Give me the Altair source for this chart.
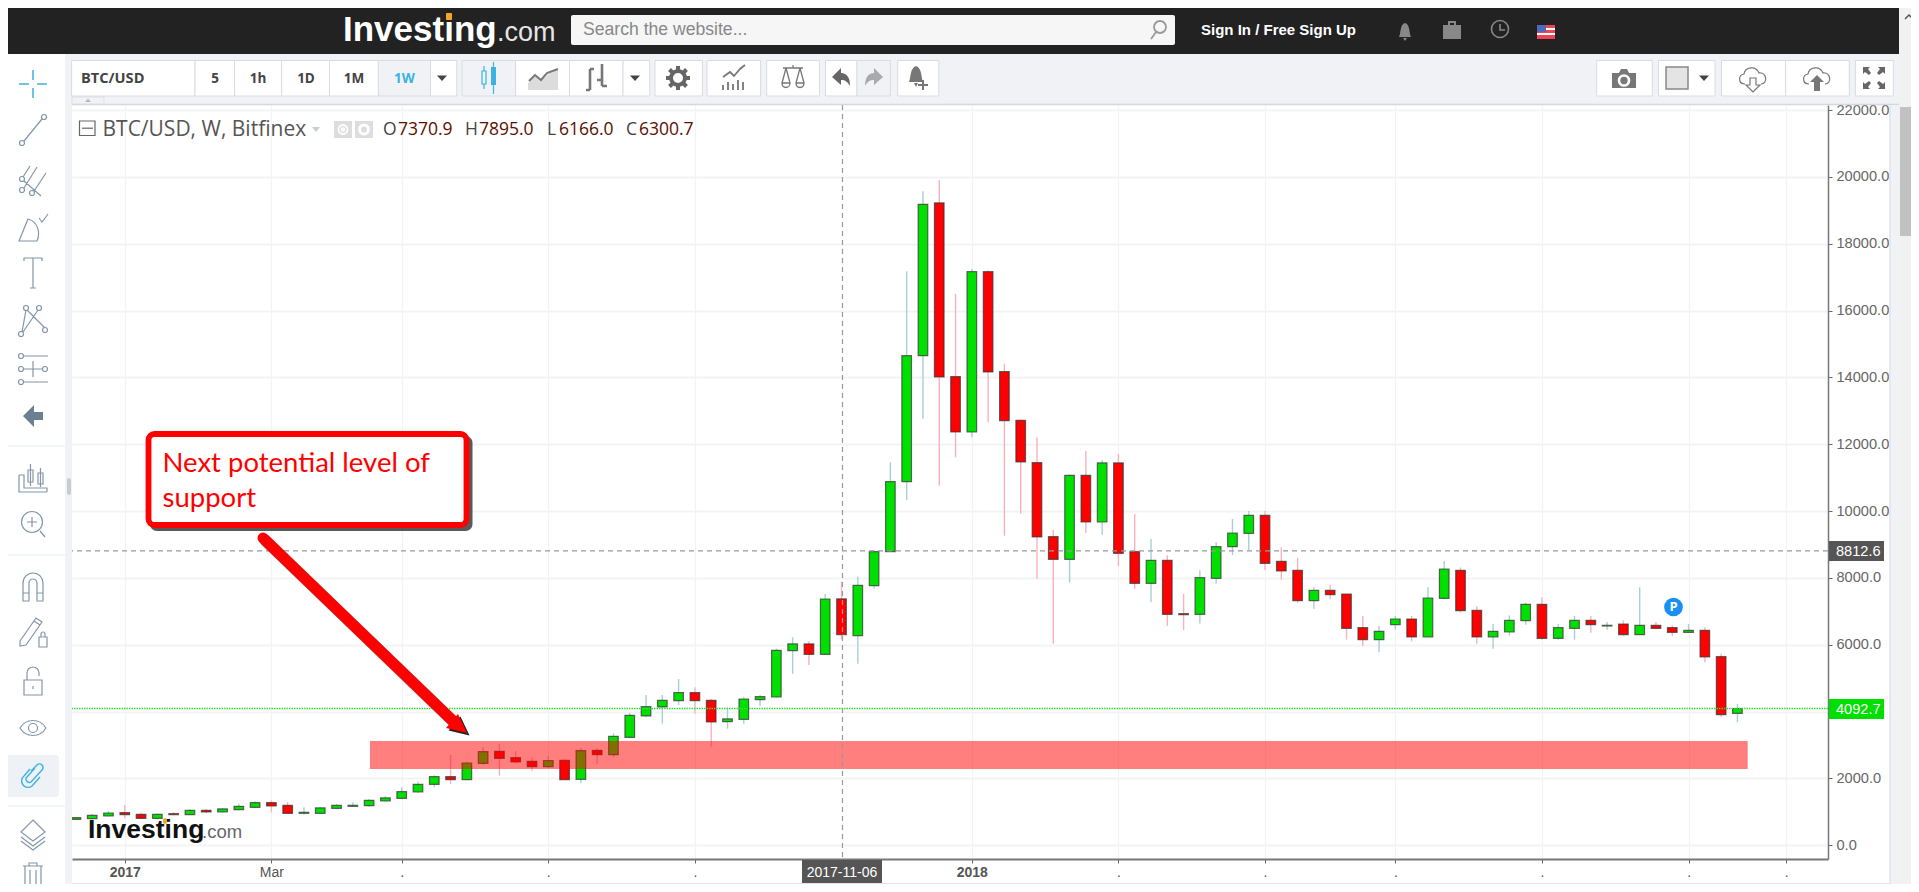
import altair as alt
import pandas as pd

# ---------- data (weekly BTC/USD candles) ----------
opens = [777,797,877,976,927,807,947,917,1047,997,1067,1136,1276,1196,957,957,1107,1166,1186,1326,
         1406,1595,1824,2053,1964,2452,2812,2622,2512,2353,2542,1975,2842,2712,3231,3870,4139,4328,4568,4338,
         3700,3770,4358,4438,5824,6024,5714,7370.9,6273,7769,8787,10881,14651,19220,14023,12367,17165,14173,12716,11450,
         9235,8557,11071,9674,11440,8787,7839,8527,6931,6911,7989,8936,9335,9874,8497,8227,7320,7629,7519,6512,
         6153,6601,6771,6233,7389,8227,7030,6233,6382,6721,7210,6193,6492,6731,6562,6621,6302,6582,6512,6372,
         6432,5644,3948]
closes = [827,897,967,917,807,927,917,1047,997,1087,1167,1276,1176,957,987,1117,1196,1196,1346,1416,
          1605,1824,2053,1964,2462,2802,2602,2492,2353,2532,1964,2832,2712,3261,3889,4149,4338,4568,4328,3690,
          3780,4378,4448,5834,6024,5714,7370,6300.7,7779,8787,10881,14651,19179,14013,12367,17165,14163,12706,11470,9225,
          8557,11071,9674,11440,8737,7839,8527,6911,6901,8009,8936,9345,9874,8437,8207,7320,7629,7499,6492,6153,
          6402,6771,6233,7399,8267,7020,6233,6402,6731,7210,6193,6512,6731,6601,6582,6302,6582,6492,6372,6432,
          5634,3908,4092.7]
highs = [837,937,1027,1206,977,957,987,1077,1087,1107,1246,1316,1346,1296,1136,1136,1236,1286,1386,1466,
         1735,1904,2093,2702,2502,2931,3031,2822,2632,2672,2572,2922,2902,3351,3969,4498,4498,4977,4727,4378,
         4119,4428,4498,5884,6223,6114,7520,7895.0,8038,8830,11460,17175,19568,19908,16496,17245,17205,14402,12740,12208,
         9435,11100,11798,11530,11709,9913,9166,8677,7520,8228,9066,9764,10003,10003,8915,8606,7719,7788,7520,6861,
         6562,6861,6861,7719,8507,8317,7150,6621,6881,7260,7419,6621,6861,6861,6681,6731,7719,6681,6582,6621,
         6522,5734,4228]
lows = [767,777,857,807,777,777,897,907,967,977,1047,1116,987,937,917,947,1077,1146,1156,1306,
        1376,1575,1735,1834,1954,2403,2083,2452,2233,2313,1954,1855,2433,2633,3201,3830,3640,4199,3939,2952,
        3490,3640,4169,4418,5136,5395,5695,6166.0,5435,7680,10333,10333,12766,10762,11609,12208,12656,9265,9924,7979,
        6030,7869,9355,9295,8357,7680,7270,6563,6443,6633,7829,8686,8836,8238,7948,7260,7080,7370,6153,5963,
        5774,6452,6103,6233,7360,6970,6033,5883,6272,6601,6153,6153,6153,6362,6452,6272,6302,6472,6262,6362,
        5474,3849,3679]
band_low = 2283
band_high = 3121
band_first = 18.05
band_last = 102.63
last_price = 4092.7
cross_price = 8812.6
cross_index = 47.06
cross_date = "2017-11-06"
price_ticks = [0, 2000, 4000, 6000, 8000, 10000, 12000, 14000, 16000, 18000, 20000, 22000]
date_ticks = [3, 12, 20, 29, 38, 55, 64, 73, 81, 90, 99, 105]
date_labels = ["2017", "Mar", ".", ".", ".", "2018", ".", ".", ".", ".", ".", "."]
note_lines = ["Next potential level of", "support"]

df = pd.DataFrame({"i": range(len(opens)), "o": opens, "c": closes, "h": highs, "l": lows})
df["dir"] = ["up" if c >= o else "down" for o, c in zip(opens, closes)]
one = pd.DataFrame({"a": [0]})

# ---------- geometry of the plot inside the page ----------
LEFT, TOP, W, H = 72, 105, 1756, 754

label_expr = "".join(f"datum.value=={v}?'{t}':" for v, t in zip(date_ticks, date_labels)) + "''"
GRID = "#f2f3f5"
FONT = "Liberation Sans"
x_scale = alt.Scale(domain=[-0.24, 107.56], nice=False, zero=False, padding=0)
x_axis = alt.Axis(values=date_ticks, labelExpr=label_expr, grid=True, gridColor=GRID, gridWidth=1.2,
                  domainColor="#777", domainWidth=2, tickColor="#666", tickSize=4,
                  labelColor="#555", labelFont=FONT, labelFontSize=14, labelPadding=2,
                  labelFontWeight={"condition": {"test": "datum.value==3||datum.value==55", "value": "bold"}, "value": "normal"},
                  labelOverlap=False, labelFlush=False)
y_scale = alt.Scale(domain=[-410, 22151], nice=False, zero=False, padding=0)
y_axis = alt.Axis(orient="right", values=price_ticks, format=".1f", grid=True, gridColor=GRID, gridWidth=2,
                  domainColor="#777", domainWidth=1.5, tickColor="#666", tickSize=4,
                  labelColor="#666", labelFont=FONT, labelFontSize=14.6, labelPadding=4, labelOverlap=False)
x_enc = alt.X("i:Q", title=None, scale=x_scale, axis=x_axis)
y_enc = alt.Y("l:Q", title=None, scale=y_scale, axis=y_axis)


def X(v):
    return alt.value(v - LEFT)


def Y(v):
    return alt.value(v - TOP)


def rect(x0, y0, x1, y1, fill, stroke=None, sw=1, radius=0, op=1):
    kw = dict(fill=fill, opacity=op, cornerRadius=radius)
    if stroke:
        kw.update(stroke=stroke, strokeWidth=sw)
    return alt.Chart(one).mark_rect(**kw).encode(x=X(x0), x2=X(x1), y=Y(y0), y2=Y(y1))


def line(x0, y0, x1, y1, color, sw=1, op=1, cap="butt"):
    return alt.Chart(one).mark_rule(color=color, strokeWidth=sw, opacity=op, strokeCap=cap).encode(
        x=X(x0), x2=X(x1), y=Y(y0), y2=Y(y1))


def txt(s, x, y, size=14, color="#444", weight="normal", font="Open Sans", align="left", baseline="middle"):
    return alt.Chart(one).mark_text(text=s, fontSize=size, color=color, fontWeight=weight, font=font,
                                    align=align, baseline=baseline).encode(x=X(x), y=Y(y))


def c(x, y, r):
    return f"M{x-r},{y}A{r},{r} 0 1 0 {x+r},{y}A{r},{r} 0 1 0 {x-r},{y}"


def icon(path, cx, cy, color="#8496a8", sw=1.2, fill=False):
    if fill:
        mk = alt.Chart(one).mark_point(shape=path, size=4, filled=True, fill=color, strokeWidth=0, opacity=1)
    else:
        mk = alt.Chart(one).mark_point(shape=path, size=4, filled=False, stroke=color, strokeWidth=sw, opacity=1)
    return mk.encode(x=X(cx), y=Y(cy))


TRI = "M-5,-2.5L5,-2.5L0,3Z"
layers = []

# ---------- chart ----------
wicks = alt.Chart(df).mark_rule(strokeWidth=1.4, clip=True).encode(
    x=x_enc, y=y_enc, y2="h:Q",
    color=alt.Color("dir:N", legend=None, scale=alt.Scale(domain=["up", "down"], range=["#a9cfd6", "#f7b2bd"])))
bodies = alt.Chart(df).mark_bar(size=9.6, stroke="#333", strokeWidth=1.2, strokeOpacity=0.72, clip=True).encode(
    x=x_enc, y=alt.Y("o:Q", title=None, scale=y_scale, axis=y_axis), y2="c:Q",
    fill=alt.Fill("dir:N", legend=None, scale=alt.Scale(domain=["up", "down"], range=["#00e000", "#ff0000"])))
layers += [wicks, bodies]

band = alt.Chart(pd.DataFrame({"i": [band_first], "i2": [band_last], "l": [band_low], "l2": [band_high]})).mark_rect(
    color="#ff0000", opacity=0.5).encode(x=x_enc, x2="i2:Q", y=y_enc, y2="l2:Q")
layers.append(band)
layers.append(alt.Chart(pd.DataFrame({"l": [cross_price]})).mark_rule(color="#999", strokeDash=[5, 4], strokeWidth=1.2).encode(y=y_enc))
layers.append(alt.Chart(pd.DataFrame({"i": [cross_index]})).mark_rule(color="#999", strokeDash=[5, 4], strokeWidth=1.2).encode(x=x_enc))
layers.append(alt.Chart(pd.DataFrame({"l": [last_price]})).mark_rule(color="#33dd33", strokeDash=[1.5, 1], strokeWidth=1.4).encode(y=y_enc))

# price and date flags
layers += [rect(1829, 541, 1884, 561, "#555"), txt(f"{cross_price:.1f}", 1836, 551.5, 14.6, "#fff", font=FONT),
           rect(1829, 699, 1884, 719, "#00e000"), txt(f"{last_price:.1f}", 1836, 709.5, 14.6, "#fff", font=FONT),
           rect(802, 860, 882, 883, "#555"), txt(cross_date, 842, 873, 14, "#fff", font=FONT, align="center")]

# callout
layers += [rect(150, 436, 472.5, 531, "#222", radius=7, op=0.75),
           rect(148.5, 434, 466.5, 525, "#fff", stroke="#ff0000", sw=5.8, radius=6)]
layers += [txt(t, 162.5, b, 27.5, "#ff0000", font="Lato", baseline="alphabetic") for t, b in zip(note_lines, [471.5, 507])]

# arrow
ARROW_HEAD = "M0,0L-9,-19L-21,-5Z"
layers += [line(265.5, 540.5, 457, 725, "#222", 11.5, 0.55, "round"),
           icon(ARROW_HEAD, 469.5, 735.5, "#222", fill=True),
           line(263, 538, 455, 723, "#ff0000", 11, 1, "round"),
           icon(ARROW_HEAD, 467, 733, "#ff0000", fill=True)]

# watermark logo
layers += [txt("Investing", 88, 838, 26.5, "#111", "bold", "Liberation Sans", baseline="alphabetic"),
           txt(".com", 202, 838, 18.5, "#666", font="Liberation Sans", baseline="alphabetic"),
           rect(163, 818, 167, 824, "#f5a623", radius=2)]

# "P" badge
layers += [alt.Chart(one).mark_point(shape="circle", size=350, filled=True, fill="#1a90f5", opacity=1, strokeWidth=0).encode(x=X(1673.5), y=Y(607)),
           txt("P", 1673.5, 607, 13, "#fff", "bold", align="center")]

# ---------- page furniture ----------
PANEL = "#f0f2f5"
EDGE = "#d8dce2"
layers += [rect(0, 54, 65, 892, "#ffffff"), rect(65, 54, 72, 892, PANEL),
           rect(72, 54, 1899, 105, PANEL), line(72, 104.5, 1899, 104.5, "#d6d8dc", 1.5),
           rect(1889, 105, 1891, 892, "#e6e8ec"), rect(1891, 105, 1899, 892, PANEL),
           rect(72, 883, 1891, 892, "#e3e4e6"),
           rect(67, 478, 71, 495, "#c8ccd2", radius=2),
           rect(0, 6, 1899, 54, "#222222"),
           rect(1899, 0, 1919, 892, "#f1f1f1"), rect(1900, 107, 1919, 236, "#c1c1c1"),
           icon("M-4,2L0,-2L4,2", 1909, 17, "#555", 1.5)]

# header
layers += [txt("Investing", 343, 41, 35, "#ffffff", "bold", "Liberation Sans", baseline="alphabetic"),
           txt(".com", 497, 41, 27, "#e6e6e6", font="Liberation Sans", baseline="alphabetic"),
           rect(446, 13, 452, 20, "#f5a623", radius=1),
           rect(571, 15, 1175, 45, "#f6f6f6", radius=2),
           txt("Search the website...", 583, 30, 17.6, "#888", font="Liberation Sans"),
           icon(c(2, -3, 6) + "M-2,2L-7,9", 1158, 30, "#999", 1.8),
           txt("Sign In / Free Sign Up", 1201, 30, 15, "#fff", "bold", "Liberation Sans"),
           icon("M-6,6C-4,2 -5,-7 0,-8C5,-7 4,2 6,6ZM-2,7L2,7L0,10Z", 1405, 31, "#888", fill=True),
           icon("M-9,-5L9,-5L9,9L-9,9ZM-4,-5L-4,-9L4,-9L4,-5L2,-5L2,-7L-2,-7L-2,-5Z", 1452, 30, "#888", fill=True),
           icon(c(0, 0, 8.5) + "M0,-5L0,1L5,1", 1500, 29, "#888", 1.6),
           rect(1537, 25, 1555, 39, "#ee4455"), rect(1537, 28, 1555, 30, "#fff"), rect(1537, 33, 1555, 35, "#fff"),
           rect(1537, 25, 1546, 32, "#5566bb")]

# toolbar buttons
buttons = [(71.6, 195, "#fff"), (195, 234.5, "#fff"), (234.5, 281.7, "#fff"), (281.7, 329.5, "#fff"),
           (329.5, 378.4, "#fff"), (378.4, 430.5, PANEL), (430.5, 456.8, "#fff"),
           (462, 515.6, PANEL), (515.6, 569.5, "#fff"), (569.5, 623, "#fff"), (623, 649.7, "#fff"),
           (655, 702.4, "#fff"), (707, 760.6, "#fff"), (766.7, 819.4, "#fff"), (825.5, 857, "#fff"), (857, 890.4, PANEL),
           (897.7, 938.8, "#fff"), (1596.7, 1652.3, "#fff"), (1658.5, 1715, "#fff"), (1721.5, 1785.7, "#fff"),
           (1785.7, 1849.3, "#fff"), (1855.4, 1893.3, "#fff")]
layers += [rect(a, 60.5, b, 96, f, stroke=EDGE, sw=1) for a, b, f in buttons]
layers += [rect(72, 97, 104, 104, PANEL, stroke=EDGE, sw=0.8), icon("M-3,1.5L3,1.5L0,-2Z", 88, 100.5, "#bbb", fill=True)]
for s, x, col in [("5", 215, "#444"), ("1h", 258, "#444"), ("1D", 306, "#444"), ("1M", 354, "#444"), ("1W", 404.5, "#3bb3e4")]:
    layers.append(txt(s, x, 78.5, 13.5, col, "bold", align="center"))
layers.append(txt("BTC/USD", 81, 78.5, 14.6, "#444", "bold"))
layers += [icon(TRI, 442, 78, "#444", fill=True), icon(TRI, 635, 78, "#444", fill=True), icon(TRI, 1704, 78, "#444", fill=True)]
GR = "#777"
BL = "#3bb3e4"
GEAR = "M0,-12L0,-7M0,12L0,7M-12,0L-7,0M12,0L7,0M-8.5,-8.5L-5,-5M8.5,8.5L5,5M-8.5,8.5L-5,5M8.5,-8.5L5,-5"
layers += [
    icon("M-5,-7L-5,6L-1,6L-1,-7ZM-3,-12L-3,-7M-3,6L-3,11", 487, 78, BL, 1.2),
    rect(491, 67, 496, 85, BL),
    line(493.5, 62, 493.5, 94, BL, 1.2),
    icon("M-16,12L-16,5L-9,-2L-3,3L6,-5L14,-8L14,12Z", 544, 78, "#dcdcdc", fill=True),
    icon("M-15,3L-9,-3L-3,2L3,-5L14,-9", 544, 78, "#777", 2),
    icon("M-7,-9L-7,12M-11,12L-7,12M-7,-9L-3,-9M5,-14L5,8M5,8L10,8M0,2L5,2", 597, 78, GR, 2.6),
    icon(GEAR, 678, 78, "#666", 4),
    icon(c(0, 0, 7), 678, 78, "#666", 4),
    icon("M-11,7L-11,12M-6,4L-6,12M-1,6L-1,12M4,2L4,12M9,4L9,12M-11,-1L-4,-6L0,-2L6,-9L11,-13", 734, 78, GR, 1.8),
    icon("M-10,-10L10,-10M0,-13L0,-10M-7,-10L-11,5M-7,-10L-3,5M7,-10L3,5M7,-10L11,5M-11,5C-11,11 -3,11 -3,5ZM3,5C3,11 11,11 11,5Z", 793, 78, GR, 1.3),
    icon("M-10,-1L-1,-10L-1,-5C5,-5 8,0 8,8C5,3 3,2 -1,2L-1,7Z", 842, 78, "#666", fill=True),
    icon("M10,-1L1,-10L1,-5C-5,-5 -8,0 -8,8C-5,3 -3,2 1,2L1,7Z", 873, 78, "#aaa", fill=True),
    icon("M-8,6C-6,1 -7,-8 -1,-10C5,-8 4,1 6,6ZM-3,7L1,7L-1,11Z", 917, 76, GR, fill=True),
    icon("M6,4L6,14M1,9L11,9", 917, 76, GR, 2),
    icon("M-12,-6L-5,-6L-3,-10L3,-10L5,-6L12,-6L12,9L-12,9Z", 1624, 79, "#777", fill=True),
    icon(c(0, 1.5, 5), 1624, 79, "#fff", 2.6),
    rect(1666, 67, 1688, 89, "#e4e4e4", stroke="#888", sw=1.5),
    icon("M-8,6C-15,6 -15,-3 -9,-4C-8,-11 3,-13 6,-5C14,-6 15,6 8,6M-3,0L-3,7L-7,7L0,14L7,7L3,7L3,0Z", 1753, 78, GR, 1.2),
    icon("M-8,6C-15,6 -15,-3 -9,-4C-8,-11 3,-13 6,-5C14,-6 15,6 8,6", 1817, 78, GR, 1.2),
    icon("M0,-3L7,4L3,4L3,13L-3,13L-3,4L-7,4Z", 1817, 78, GR, fill=True),
    icon("M-11,-11L-4,-11L-6,-9L-3,-5L-5,-3L-9,-6L-11,-4ZM11,-11L4,-11L6,-9L3,-5L5,-3L9,-6L11,-4ZM-11,11L-4,11L-6,9L-3,5L-5,3L-9,6L-11,4ZM11,11L4,11L6,9L3,5L5,3L9,6L11,4Z", 1874, 78, "#666", fill=True),
]

# legend row
layers += [rect(79.5, 121, 95, 135.5, "#fff", stroke="#666", sw=1.2), line(82, 128.2, 93, 128.2, "#666", 1.2),
           txt("BTC/USD, W, Bitfinex", 102.5, 129.5, 21, "#555"),
           icon("M-4,-2L4,-2L0,3Z", 316, 129, "#ccc", fill=True),
           rect(334, 121, 352, 138, "#ddd"), icon(c(0, 0, 4.5) + c(0, 0, 1.3), 343, 129.5, "#fff", 1.8),
           rect(355, 121, 373, 138, "#ddd"), icon(c(0, 0, 4.5), 364, 129.5, "#fff", 3)]
for letter, lx, num, nx in [("O", 383, "7370.9", 398), ("H", 465, "7895.0", 479), ("L", 547, "6166.0", 559), ("C", 626, "6300.7", 639)]:
    layers += [txt(letter, lx, 130, 17.5, "#444"), txt(num, nx, 130, 17.5, "#5a0f00")]

# side toolbar
layers += [line(0, 555, 65, 555, "#e4ebf2", 1.2), line(0, 806, 65, 806, "#e4ebf2", 1.2), line(0, 446, 65, 446, "#e4ebf2", 1.2),
           rect(7, 755, 59, 797, "#eef1f5", radius=3)]
layers += [
    icon("M0,-14L0,-4M0,4L0,14M-14,0L-4,0M4,0L14,0", 33, 84, BL, 1.5),
    icon(c(-11, 13, 2.5) + c(11, -13, 2.5) + "M-9,11L9,-11", 33, 130),
    icon(c(-11, 10, 2.5) + c(-1, 13, 2.5) + c(-11, -1, 2.5) + "M-9,8L4,-13M1,11L13,-7M-9,1L8,16M-10,-3L-3,-14", 33, 180),
    icon("M-14,14L-5,-8C4,-6 8,5 4,14ZM6,-9L9,-5L15,-13", 33, 227),
    icon("M-9,-12L-9,-15L9,-15L9,-12M0,-15L0,15M-3,15L3,15", 33, 273),
    icon(c(-12, 14, 2.5) + c(-7, -12, 2.5) + c(6, -12, 2.5) + c(12, 10, 2.5) + "M-11,12L-7,-10M-6,-10L12,8M5,-10L-10,12", 33, 320),
    icon(c(-12, -13, 2.5) + c(-12, 0, 2.5) + c(-12, 13, 2.5) + c(12, 0, 2.5) + "M-9,-13L15,-13M-9,0L9,0M-9,13L15,13M0,-8L0,8", 33, 369),
    icon("M-10,0L1,-11L1,-4L10,-4L10,4L1,4L1,11Z", 33, 416, "#6b7f93", fill=True),
    icon("M-14,-3L-14,14L14,14M-14,-3L-9,-3L-9,10L14,10L14,14M-5,-8L-5,4L0,4L0,-8ZM-2.5,-14L-2.5,8M5,-5L5,6L10,6L10,-5ZM7.5,-10L7.5,9", 33, 478),
    icon(c(-1, -2, 10.5) + "M7,7L12,13M-1,-7L-1,3M-6,-2L4,-2", 33, 524),
    icon("M-10,15L-10,-3A10,10 0 0 1 10,-3L10,15L4,15L4,-3A4,4 0 0 0 -4,-3L-4,15ZM-10,7L-4,7M4,7L10,7", 33, 586),
    icon("M-13,8L3,-15L9,-11L-7,12L-13,13ZM1,-12L7,-8M6,4L14,4L14,14L6,14ZM8,4L8,1A2,2 0 0 1 12,1L12,4", 33, 633),
    icon("M-9,0L9,0L9,15L-9,15ZM-6,0L-6,-7A6,6 0 0 1 6,-7L6,-4M0,6L0,9", 33, 680),
    icon("M-13,0C-7,-10 7,-10 13,0C7,10 -7,10 -13,0Z" + c(0, 0, 4.5), 33, 728),
    icon("M-2,-4L4,-10A3.5,3.5 0 0 1 9,-5L-2,7A3.5,3.5 0 0 1 -7,3L2,-7M-3,-6L-9,1A5,5 0 0 0 -1,11L7,2", 33, 775, BL, 1.4),
    icon("M0,-13L12,-1L0,8L-12,-1ZM-12,4L0,13L12,4M-12,8L0,17L12,8", 33, 833),
    icon("M-10,-10L10,-10M-4,-10L-4,-13L4,-13L4,-10M-8,-10L-8,16L8,16L8,-10M-3,-6L-3,16M3,-6L3,16", 33, 876),
]

chart = alt.layer(*layers).resolve_scale(color="independent", fill="independent").properties(
    width=W, height=H, autosize="none",
    padding={"left": LEFT - 8, "top": TOP - 8, "right": 1903 - (LEFT - 8) - W, "bottom": 876 - (TOP - 8) - H},
    background="#ffffff",
).configure_view(stroke=None)
chart.save("out.html", embed_options={"renderer": "svg", "actions": False})
